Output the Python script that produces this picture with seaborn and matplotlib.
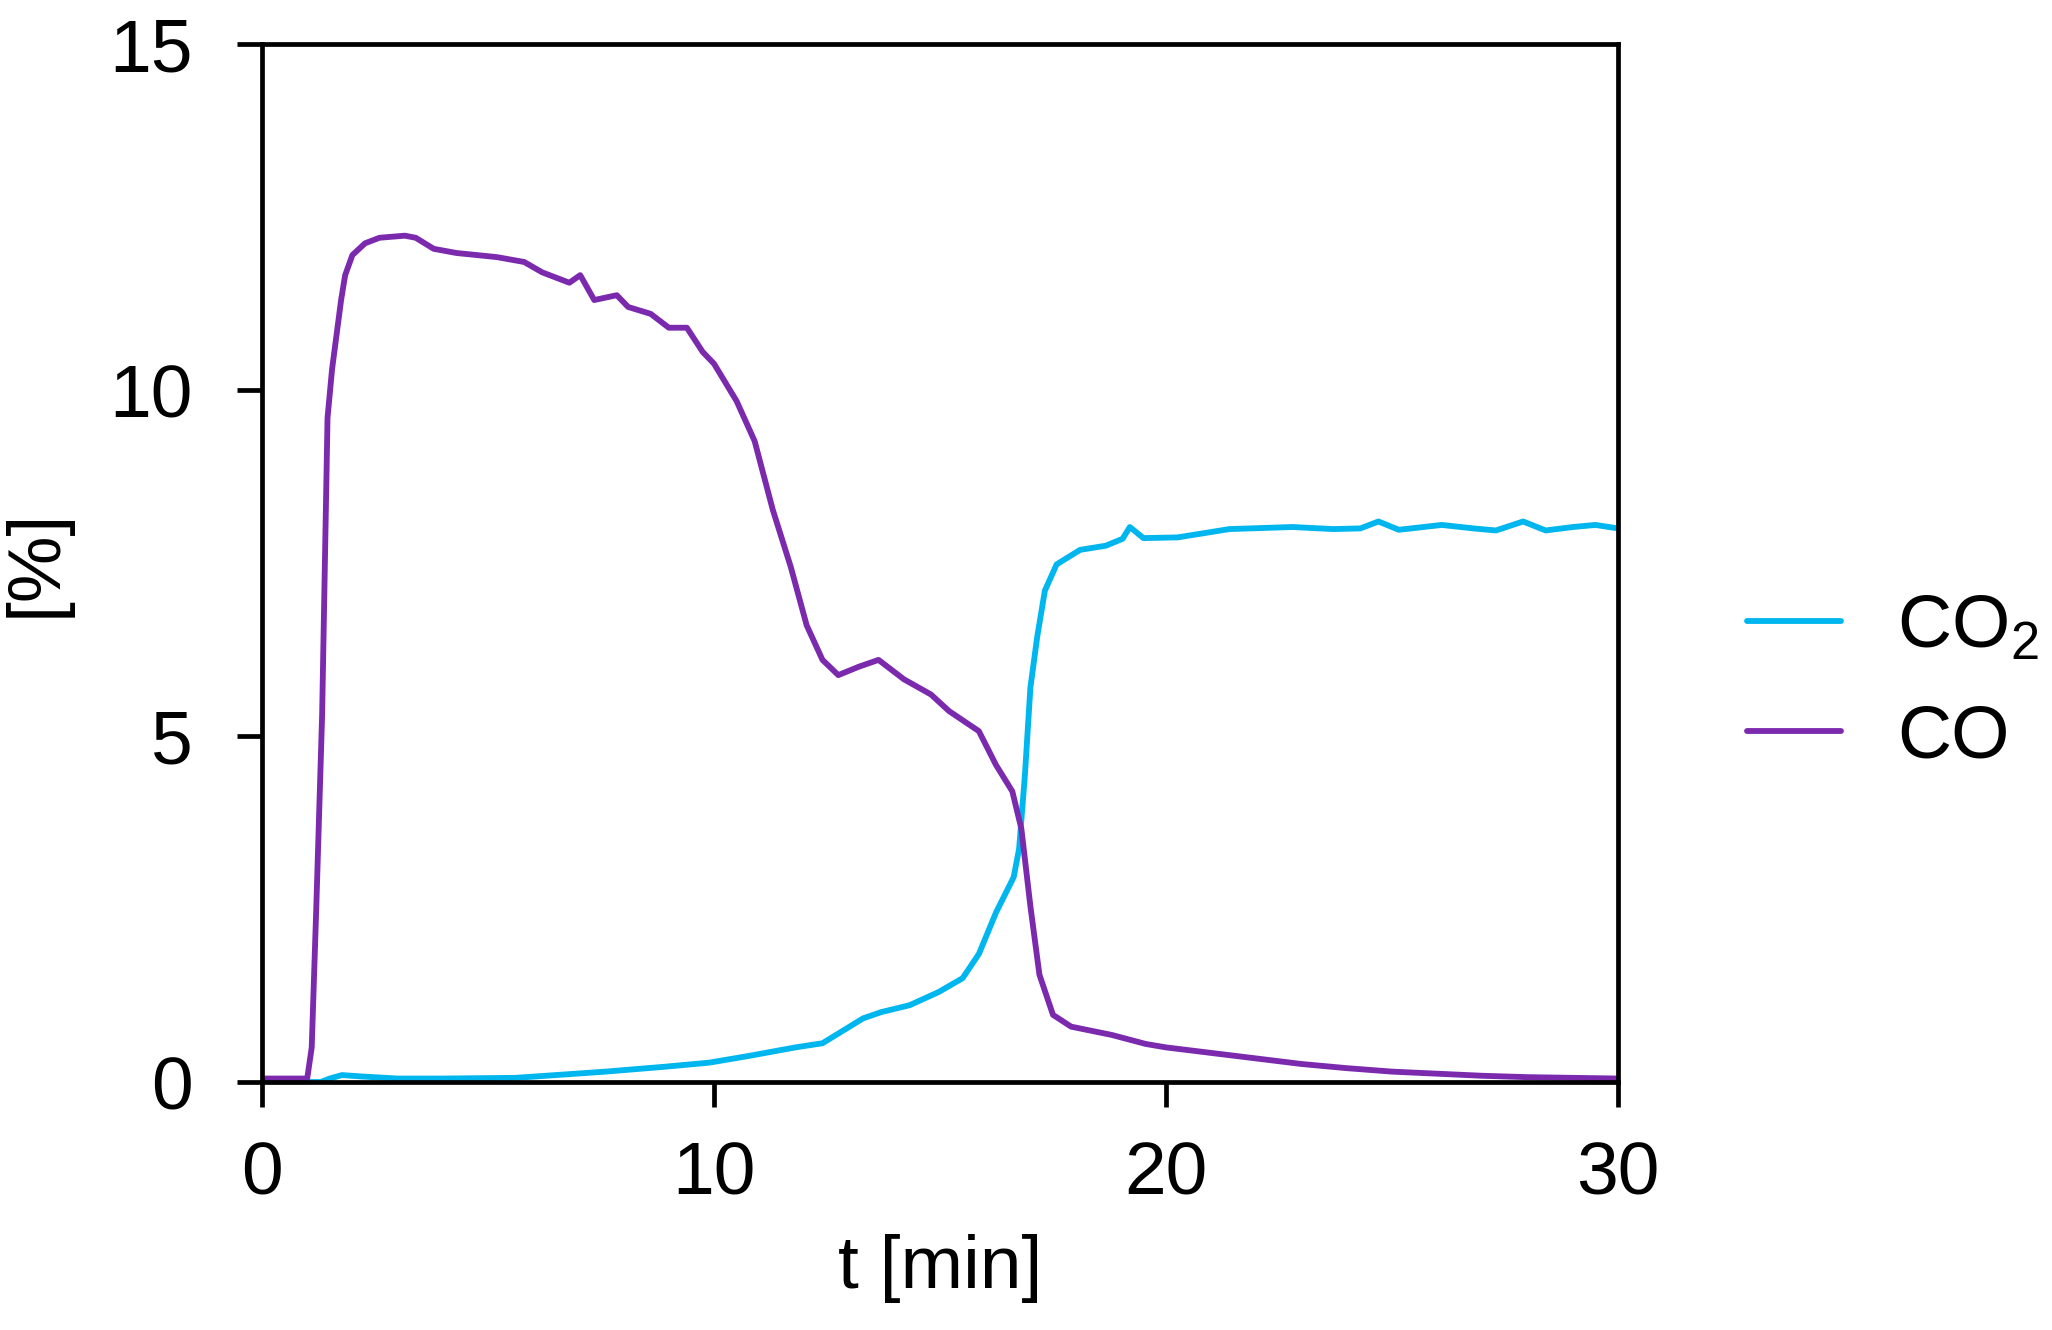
import pandas as pd
import numpy as np
import matplotlib
matplotlib.use("Agg")
import matplotlib.pyplot as plt
import seaborn as sns

# Gas concentrations
co2_t = [0, 1.3, 1.5, 1.77, 2.2, 3.0, 4.0, 5.6, 6.5, 7.6, 8.9, 9.9, 10.8, 11.8, 12.4,
         12.8, 13.3, 13.7, 14.33, 14.97, 15.5, 15.86, 16.24, 16.63, 16.75, 16.88, 17.0,
         17.15, 17.32, 17.58, 18.1, 18.67, 19.04, 19.2, 19.5, 20.26, 21.4, 22.8, 23.7,
         24.3, 24.7, 25.15, 26.1, 26.8, 27.3, 27.9, 28.4, 29.0, 29.5, 30]
co2_v = [0, 0, 0.05, 0.1, 0.08, 0.05, 0.05, 0.06, 0.1, 0.15, 0.22, 0.28, 0.38, 0.5, 0.56,
         0.72, 0.92, 1.01, 1.11, 1.3, 1.5, 1.85, 2.45, 2.96, 3.37, 4.45, 5.7,
         6.43, 7.1, 7.48, 7.69, 7.75, 7.85, 8.02, 7.86, 7.87, 7.99, 8.02, 7.99,
         8.0, 8.1, 7.98, 8.05, 8.0, 7.97, 8.1, 7.97, 8.02, 8.05, 8.0]

co_t = [0, 1.0, 1.1, 1.2, 1.33, 1.45, 1.55, 1.64, 1.75, 1.84, 2.0, 2.28, 2.6, 3.16, 3.4,
        3.8, 4.3, 5.2, 5.8, 6.2, 6.8, 7.04, 7.35, 7.85, 8.1, 8.6, 9.0, 9.4, 9.75, 10.0,
        10.5, 10.9, 11.3, 11.7, 12.05, 12.4, 12.75, 13.2, 13.64, 14.2, 14.8, 15.2, 15.86,
        16.24, 16.6, 16.8, 17.0, 17.2, 17.5, 17.9, 18.8, 19.55, 20.0, 21.0, 22.0, 23.0,
        24.0, 25.0, 26.0, 27.0, 28.0, 30]
co_v = [0.05, 0.05, 0.5, 2.5, 5.3, 9.6, 10.3, 10.75, 11.3, 11.66, 11.95, 12.12, 12.2, 12.23, 12.2,
        12.04, 11.98, 11.92, 11.85, 11.7, 11.55, 11.66, 11.3, 11.37, 11.2, 11.1, 10.9, 10.9, 10.55, 10.38,
        9.84, 9.26, 8.27, 7.44, 6.6, 6.1, 5.88, 6.0, 6.1, 5.82, 5.6, 5.36, 5.07,
        4.58, 4.2, 3.66, 2.54, 1.55, 0.97, 0.8, 0.68, 0.55, 0.5, 0.42, 0.34, 0.26,
        0.2, 0.15, 0.12, 0.09, 0.07, 0.05]

gas_labels = ["CO$_\\mathregular{2}$", "CO"]
gas_colors = ["#00B6EE", "#7B2AAE"]
x_ticks = [0, 10, 20, 30]
y_ticks = [0, 5, 10, 15]

df = pd.concat([
    pd.DataFrame({"t": co2_t, "v": co2_v, "gas": gas_labels[0]}),
    pd.DataFrame({"t": co_t, "v": co_v, "gas": gas_labels[1]}),
])

sns.set_style("ticks")
plt.rcParams["font.family"] = ["Liberation Sans", "DejaVu Sans"]
plt.rcParams["mathtext.fontset"] = "custom"
plt.rcParams["mathtext.rm"] = "Liberation Sans"
plt.rcParams["text.color"] = "black"
plt.rcParams["axes.labelcolor"] = "black"
plt.rcParams["xtick.color"] = "black"
plt.rcParams["ytick.color"] = "black"

fig = plt.figure(figsize=(20.52, 13.3), dpi=100)
ax = fig.add_axes([262 / 2052, 1 - 1082 / 1330, (1618 - 262) / 2052, (1082 - 44) / 1330])

sns.lineplot(data=df, x="t", y="v", hue="gas", hue_order=gas_labels,
             palette=dict(zip(gas_labels, gas_colors)), estimator=None,
             sort=False, linewidth=4.2, ax=ax, legend=False)

ax.set_xlim(0, 30)
ax.set_ylim(0, 15)
ax.set_xticks(x_ticks)
ax.set_yticks(y_ticks)
for s in ax.spines.values():
    s.set_visible(True)
    s.set_linewidth(3.4)
    s.set_color("black")
ax.tick_params(axis="both", direction="out", length=18, width=3.4, color="black",
               labelcolor="black", labelsize=54)
ax.tick_params(axis="y", pad=32)
ax.tick_params(axis="x", pad=24)
ax.set_xlabel("t [min]", fontsize=54, labelpad=18)
ax.set_ylabel("[%]", fontsize=54, labelpad=28)

handles = [plt.Line2D([], [], color=c, lw=4.2) for c in gas_colors]
fig.legend(handles, gas_labels, loc="center left", bbox_to_anchor=(1747 / 2052, 1 - 683 / 1330),
           frameon=False, fontsize=54, handlelength=1.25, handletextpad=0.75,
           labelspacing=0.55, borderpad=0, borderaxespad=0)

fig.savefig("out.png", dpi=100, facecolor="white")
